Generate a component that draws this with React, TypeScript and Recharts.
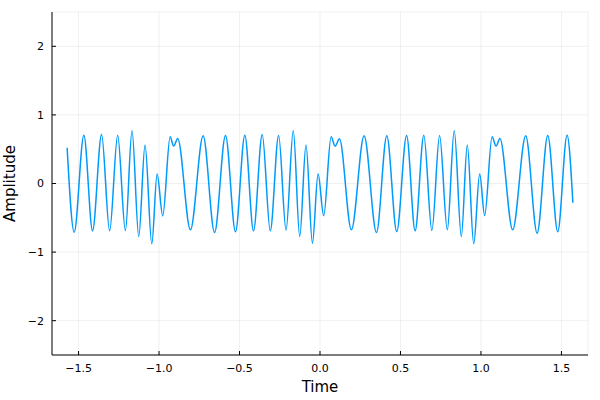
import React from "react";
import { LineChart, Line, XAxis, YAxis, CartesianGrid, Label } from "recharts";

// Extrema (and end points)
const timeValues: number[] = [
  -1.571, -1.527, -1.467, -1.413, -1.357, -1.307, -1.257, -1.209, -1.168, -1.126,
  -1.087, -1.045, -1.012, -0.977, -0.931, -0.909, -0.884, -0.805, -0.726, -0.655,
  -0.587, -0.525, -0.467, -0.413, -0.359, -0.309, -0.257, -0.211, -0.166, -0.126,
  -0.087, -0.047, -0.012, 0.023, 0.069, 0.094, 0.121, 0.195, 0.274, 0.351,
  0.415, 0.477, 0.538, 0.591, 0.645, 0.695, 0.743, 0.791, 0.834, 0.878,
  0.915, 0.955, 0.992, 1.023, 1.069, 1.094, 1.118, 1.197, 1.278, 1.349,
  1.415, 1.477, 1.535, 1.571,
];

const amplitudeValues: number[] = [
  0.52, -0.71, 0.705, -0.69, 0.715, -0.69, 0.705, -0.686, 0.768, -0.774,
  0.56, -0.88, 0.138, -0.473, 0.68, 0.545, 0.657, -0.676, 0.695, -0.715,
  0.7, -0.705, 0.705, -0.69, 0.715, -0.69, 0.7, -0.68, 0.768, -0.774,
  0.56, -0.87, 0.138, -0.468, 0.68, 0.545, 0.652, -0.676, 0.695, -0.715,
  0.695, -0.7, 0.7, -0.69, 0.705, -0.686, 0.7, -0.676, 0.768, -0.774,
  0.56, -0.88, 0.138, -0.468, 0.68, 0.545, 0.657, -0.676, 0.695, -0.725,
  0.7, -0.705, 0.705, -0.28,
];

const xTicks: number[] = [-1.5, -1.0, -0.5, 0.0, 0.5, 1.0, 1.5];
const yTicks: number[] = [-2, -1, 0, 1, 2];

const data = timeValues.map((t, i) => ({ t, y: amplitudeValues[i] }));

const fmtX = (v: number) => {
  const s = Math.abs(v).toFixed(1);
  return v < 0 ? "\u2212" + s : s;
};
const fmtY = (v: number) => {
  const s = Math.abs(v).toFixed(0);
  return v < 0 ? "\u2212" + s : s;
};

const font = "'DejaVu Sans', sans-serif";

export default function App() {
  return (
    <div style={{ position: "absolute", left: 0, top: 0, width: 600, height: 400, background: "#fff" }}>
      <LineChart
        width={600}
        height={400}
        data={data}
        margin={{ top: 12, right: 12, bottom: 0, left: 0 }}
      >
        <CartesianGrid stroke="#000" strokeOpacity={0.06} strokeWidth={1} />
        <XAxis
          dataKey="t"
          type="number"
          domain={[-1.665, 1.665]}
          allowDataOverflow
          ticks={xTicks}
          tickFormatter={fmtX}
          height={45}
          tickSize={-4}
          tickMargin={13}
          axisLine={{ stroke: "#000", strokeWidth: 1 }}
          tickLine={{ stroke: "#000", strokeWidth: 1 }}
          tick={{ fill: "#000", fontSize: 11, fontFamily: font }}
        >
          <Label
            value="Time"
            position="insideBottom"
            offset={8}
            style={{ fontSize: 15, fontFamily: font, fill: "#000" }}
          />
        </XAxis>
        <YAxis
          type="number"
          domain={[-2.5, 2.5]}
          allowDataOverflow
          ticks={yTicks}
          tickFormatter={fmtY}
          width={52}
          tickSize={-4}
          tickMargin={12}
          axisLine={{ stroke: "#000", strokeWidth: 1 }}
          tickLine={{ stroke: "#000", strokeWidth: 1 }}
          tick={{ fill: "#000", fontSize: 11, fontFamily: font }}
        >
          <Label
            value="Amplitude"
            angle={-90}
            position="insideLeft"
            offset={10}
            textAnchor="middle"
            style={{ fontSize: 15, fontFamily: font, fill: "#000", textAnchor: "middle" }}
          />
        </YAxis>
        <Line
          type="monotone"
          dataKey="y"
          stroke="#009AFA"
          strokeWidth={1.5}
          dot={false}
          activeDot={false}
          isAnimationActive={false}
        />
      </LineChart>
    </div>
  );
}
